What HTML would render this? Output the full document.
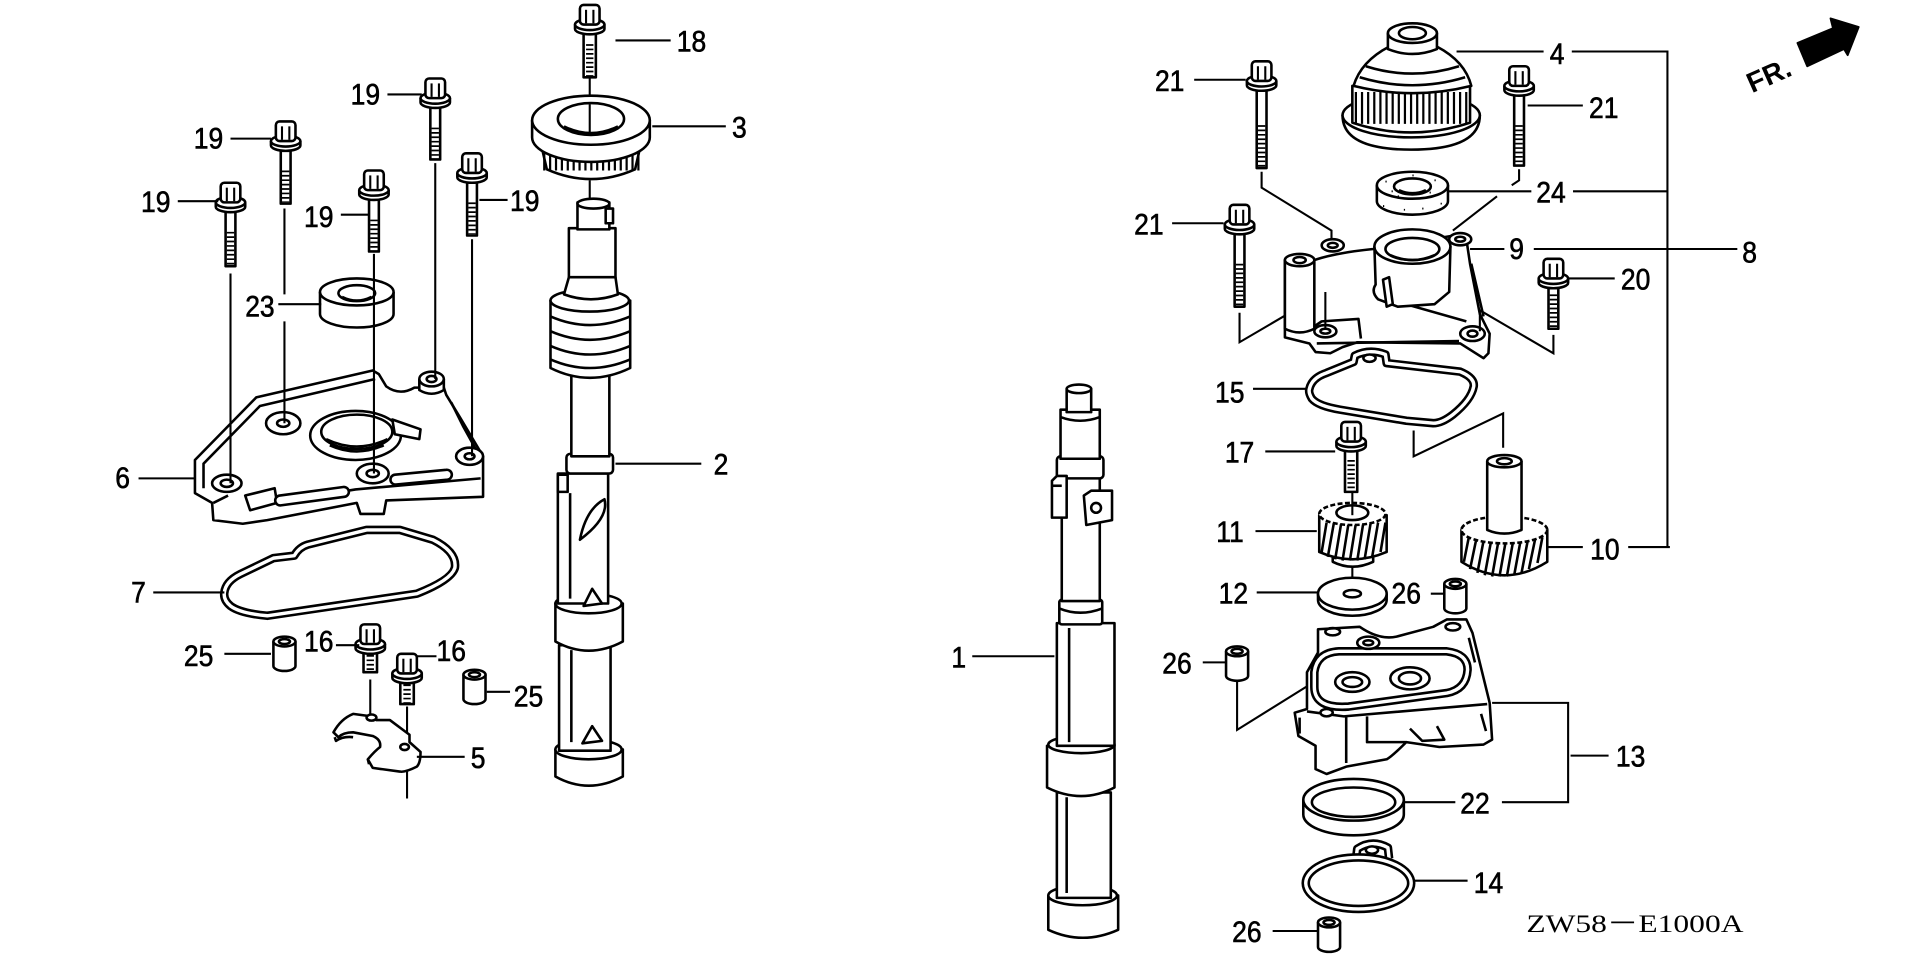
<!DOCTYPE html>
<html><head><meta charset="utf-8">
<style>
html,body{margin:0;padding:0;background:#fff;}
svg{display:block;}
.w{fill:#fff;stroke:#000;stroke-width:2.1;stroke-linejoin:round;}
.n{fill:none;stroke:#000;stroke-width:2.1;stroke-linejoin:round;}
.l{fill:none;stroke:#000;stroke-width:1.7;}
.th{fill:none;stroke:#000;stroke-width:6;stroke-dasharray:1.4 2.2;}
.t text{font-family:"Liberation Sans",Arial,sans-serif;font-size:24px;fill:#000;stroke:#000;stroke-width:0.5;transform-box:fill-box;transform-origin:0 50%;transform:scaleX(0.9);}
.g2{fill:none;stroke:#000;stroke-width:7;stroke-linejoin:round;}
.g2w{fill:none;stroke:#fff;stroke-width:2.8;stroke-linejoin:round;}
</style></head><body>
<svg width="1920" height="958" viewBox="0 0 1566 781" preserveAspectRatio="none" xmlns="http://www.w3.org/2000/svg">
<rect x="0" y="0" width="1566" height="781" fill="#fff"/>
<defs>
<g id="bh">
<path class="w" d="M-12,16 v3.5 a12,4.5 0 0 0 24,0 v-3.5"/>
<ellipse class="w" cx="0" cy="16" rx="12" ry="4.5"/>
<rect class="w" x="-8" y="0" width="16" height="16" rx="3"/>
<line class="l" x1="-3" y1="4" x2="-3" y2="15"/>
<line class="l" x1="3" y1="4" x2="3" y2="15"/>
</g>
<g id="sp">
<path class="w" d="M-9,0 V20 A9,4 0 0 0 9,20 V0"/>
<ellipse class="w" cx="0" cy="0" rx="9" ry="4"/>
<ellipse class="n" cx="0" cy="0" rx="4.5" ry="2"/>
</g>
</defs>

<!-- ===================== LEFT GROUP ===================== -->
<!-- cover 6 -->
<path class="w" d="M159,402 L159,375 L209,324 L304,302 L309,305 L315,315 Q326,323 338,316 L362,316 L364,322 L375,340 L394,372 L394,405 L315,408 L313,419 L294,419 L291,410 L218,424 L198,427 L174,424 L173,410 Z"/>
<path class="n" d="M166,398 L166,378 L212,331 L306,309"/>
<path class="n" d="M368,328 L378,348 L388,366"/>
<path class="n" d="M174,410 L186,404 M210,412 L290,399 L392,390"/>
<path class="w" d="M200,404 L224,398 L226,410 L204,416 Z"/>
<path class="w" d="M228,404 L280,397 A4,4 0 0 1 281,405 L229,412 A4,4 0 0 1 228,404 Z"/>
<path class="w" d="M322,387 L364,383 A4,4 0 0 1 365,391 L323,395 A4,4 0 0 1 322,387 Z"/>
<ellipse class="w" cx="290" cy="355" rx="37" ry="20"/>
<ellipse class="w" cx="291" cy="352" rx="29" ry="14"/>
<path class="n" d="M266,358 Q291,370 316,358 M269,363 Q291,373 313,363"/>
<path class="w" d="M320,342 L343,350 L342,358 L322,354 Z"/>
<path class="w" d="M342,309 V318 Q352,324 362,318 V309"/>
<ellipse class="w" cx="352" cy="309" rx="10" ry="6"/><ellipse class="n" cx="352" cy="309" rx="4" ry="2.5"/>
<ellipse class="w" cx="231" cy="345" rx="14" ry="9"/><ellipse class="n" cx="231" cy="345" rx="5" ry="3"/>
<ellipse class="w" cx="304" cy="386" rx="13" ry="8"/><ellipse class="n" cx="304" cy="386" rx="5" ry="3"/>
<ellipse class="w" cx="185" cy="394" rx="12" ry="7"/><ellipse class="n" cx="185" cy="394" rx="5" ry="3"/>
<ellipse class="w" cx="383" cy="372" rx="11" ry="7"/><ellipse class="n" cx="383" cy="372" rx="4" ry="2.5"/>

<!-- seal 23 -->
<path class="w" d="M261,238 V256 A30,11 0 0 0 321,256 V238"/>
<ellipse class="w" cx="291" cy="238" rx="30" ry="11"/>
<ellipse class="w" cx="291" cy="239" rx="15" ry="6.5"/>
<path class="n" d="M279,242 Q291,248 303,242"/>

<!-- guide lines for bolts 19 -->
<path class="l" d="M188,223 V394 M232,170 V240 M232,262 V345 M355,133 V309 M305,207 V386 M385,195 V372"/>

<!-- bolts 19 -->
<rect class="w" x="184" y="171" width="8" height="46"/><line class="th" x1="188" y1="189" x2="188" y2="216"/><g transform="translate(188,149)"><use href="#bh"/></g>
<rect class="w" x="229" y="121" width="8" height="45"/><line class="th" x1="233" y1="139" x2="233" y2="165"/><g transform="translate(233,99)"><use href="#bh"/></g>
<rect class="w" x="351" y="86" width="8" height="44"/><line class="th" x1="355" y1="104" x2="355" y2="129"/><g transform="translate(355,64)"><use href="#bh"/></g>
<rect class="w" x="301" y="161" width="8" height="44"/><line class="th" x1="305" y1="179" x2="305" y2="204"/><g transform="translate(305,139)"><use href="#bh"/></g>
<rect class="w" x="381" y="147" width="8" height="45"/><line class="th" x1="385" y1="165" x2="385" y2="191"/><g transform="translate(385,125)"><use href="#bh"/></g>

<!-- gasket 7 -->
<path class="g2" d="M183,483 Q184,474 196,468 L223,455 L240,453 Q244,446 251,444 L299,432 L326,432 L353,440 Q373,450 371,463 Q368,473 340,484 L218,502 Q196,500 188,494 Q182,489 183,483 Z"/>
<path class="g2w" d="M183,483 Q184,474 196,468 L223,455 L240,453 Q244,446 251,444 L299,432 L326,432 L353,440 Q373,450 371,463 Q368,473 340,484 L218,502 Q196,500 188,494 Q182,489 183,483 Z"/>

<!-- spacers 25 -->
<g transform="translate(232,523)"><use href="#sp"/></g>
<g transform="translate(387,550)"><use href="#sp"/></g>

<!-- bolts 16 -->
<path class="l" d="M302,554 V583 M332,576 V606 M332,628 V651"/>
<rect class="w" x="296.5" y="531" width="11" height="17"/><line class="th" x1="302" y1="534" x2="302" y2="547"/><g transform="translate(302,509)"><use href="#bh"/></g>
<rect class="w" x="326.5" y="555" width="11" height="19"/><line class="th" x1="332" y1="558" x2="332" y2="573"/><g transform="translate(332,533)"><use href="#bh"/></g>

<!-- part 5 -->
<path class="w" d="M272,597 Q278,586 288,582 L303,584 L307,587 L318,587 L334,599 L334,605 L343,613 Q343,622 340,625 Q330,630 326,629 L304,626 L300,619 Q306,612 310,609 Q311,603 304,600 L288,597 Q280,597 276,601 Z"/>
<path class="n" d="M273,601 L274,604 Q280,600 288,601 M300,619 L301,623"/>
<ellipse class="w" cx="303" cy="585" rx="4" ry="2.5"/>
<ellipse class="w" cx="330" cy="609" rx="3.5" ry="2.5"/>

<!-- gear 3 + bolt 18 -->
<line class="l" x1="481" y1="62" x2="481" y2="80"/>
<line class="l" x1="481" y1="147" x2="481" y2="165"/>
<path class="w" d="M440,112 L446,138 Q482,154 518,138 L524,112 Z"/>
<line x1="443" y1="128" x2="522" y2="128" stroke="#000" stroke-width="22" stroke-dasharray="1.8 3"/>
<path class="w" d="M434,98 V112 A48,20 0 0 0 530,112 V98"/>
<ellipse class="w" cx="482" cy="98" rx="48" ry="20"/>
<ellipse class="w" cx="482" cy="97" rx="27" ry="13"/>
<path class="n" d="M460,103 Q482,114 504,103"/>
<line class="l" x1="481" y1="85" x2="481" y2="110"/>
<rect class="w" x="476" y="26" width="10" height="37"/><line class="th" x1="481" y1="36" x2="481" y2="62"/><g transform="translate(481,4)"><use href="#bh"/></g>

<!-- shaft 2 -->
<path class="w" d="M453,611 V633 Q480,648 508,633 V611 Z"/>
<ellipse class="w" cx="480" cy="611" rx="27" ry="8"/>
<rect class="w" x="456" y="526" width="42" height="86"/>
<path class="n" d="M466,530 V605"/>
<path class="w" d="M475,606 L483,592 L491,604 Z"/>
<path class="w" d="M453,492 V523 Q480,538 508,523 V492 Z"/>
<ellipse class="w" cx="480" cy="492" rx="27" ry="8"/>
<rect class="w" x="455" y="386" width="41" height="106"/>
<path class="n" d="M465,402 V488"/>
<path class="w" d="M476,494 L483,480 L491,492 Z"/>
<path class="w" d="M473,440 Q478,415 493,407 Q497,422 473,440 Z"/>
<rect class="w" x="455" y="387" width="8" height="14"/>
<rect class="w" x="462" y="370" width="38" height="16" rx="3"/>
<rect class="w" x="466" y="300" width="31" height="72"/>
<path class="w" d="M449,245 V300 Q481,316 514,300 V245 Z"/>
<path class="n" d="M449,258 Q481,272 514,258 M449,270 Q481,284 514,270 M449,282 Q481,296 514,282 M449,293 Q481,307 514,293"/>
<ellipse class="w" cx="481" cy="245" rx="32" ry="9"/>
<path class="w" d="M460,240 L464,226 L502,226 L504,240 Q482,248 460,240 Z"/>
<rect class="w" x="464" y="186" width="38" height="40"/>
<rect class="w" x="471" y="165" width="26" height="22"/>
<ellipse class="w" cx="484" cy="166" rx="13" ry="4"/>
<rect class="w" x="494" y="170" width="6" height="12"/>

<!-- ===================== SHAFT 1 ===================== -->
<path class="w" d="M855,730 V758 Q883,771 912,758 V730 Z"/>
<ellipse class="w" cx="883" cy="730" rx="28" ry="8"/>
<rect class="w" x="862" y="646" width="44" height="86"/>
<path class="n" d="M870,650 V728"/>
<path class="w" d="M854,608 V642 Q882,656 909,642 V608 Z"/>
<ellipse class="w" cx="882" cy="607" rx="27" ry="7"/>
<rect class="w" x="862" y="508" width="47" height="100"/>
<path class="n" d="M872,512 V605"/>
<rect class="w" x="864" y="489" width="35" height="20" rx="2"/>
<path class="n" d="M864,496 Q881,503 899,496"/>
<rect class="w" x="866" y="388" width="31" height="102"/>
<rect class="w" x="862" y="372" width="38" height="18" rx="3"/>
<path class="w" d="M858,392 L862,388 L870,388 L870,422 L858,422 Z"/>
<path class="n" d="M858,396 L866,396"/>
<path class="w" d="M884,404 L890,400 L907,400 L907,424 L886,428 Z"/>
<circle class="n" cx="894" cy="414" r="4"/>
<rect class="w" x="865" y="334" width="32" height="40"/>
<path class="n" d="M865,340 Q881,346 897,340"/>
<rect class="w" x="870" y="317" width="20" height="19"/>
<ellipse class="w" cx="880" cy="317" rx="10" ry="3.5"/>

<!-- ===================== RIGHT GROUP ===================== -->
<path class="l" d="M1188,42 H1259 M1282,42 H1360 V446 M1181,156 H1249 M1283,156 H1360 M1199,203 H1227 M1251,203 H1417 M1263,446 H1291 M1328,446 H1362"/>
<path class="l" d="M1217,573 H1279 V654 H1225 M1281,616 H1312 M1143,654 H1187"/>
<path class="l" d="M974,65 H1016 M1246,86 H1291 M956,182 H998 M1279,227 H1317 M1022,317 H1068 M1032,368 H1089 M1024,433 H1074 M1025,483 H1075 M1167,484 H1181 M981,540 H1000 M1152,718 H1197 M1038,759 H1075 M793,535 H860"/>
<path class="l" d="M502,33 H547 M532,103 H592 M145,164 H178 M188,113 H221 M316,77 H344 M278,175 H301 M391,163 H414 M227,248 H262 M113,390 H159 M125,483 H183 M502,378 H572 M183,533 H221 M274,526 H293 M340,535 H356 M397,564 H416 M340,617 H379"/>
<path class="l" d="M1029,140 V153 L1086,188 V198 M1239,138 V147 L1233,151 M1221,160 L1185,188 M1011,255 V279 L1081,238 M1267,273 V288 L1207,253 M1153,351 V372 L1226,337 V365 M1009,553 V595 L1083,549 V579"/>

<!-- gear 4 -->
<path class="w" d="M1095,94 Q1095,122 1151,122 Q1207,122 1207,94 Z"/>
<ellipse class="w" cx="1151" cy="94" rx="56" ry="18"/>
<path class="w" d="M1103,70 V100 Q1151,116 1199,100 V70 Z"/>
<line x1="1105" y1="88" x2="1198" y2="88" stroke="#000" stroke-width="26" stroke-dasharray="1.8 3.2"/>
<path class="w" d="M1104,70 Q1110,50 1133,38 L1172,38 Q1195,50 1200,70 Q1152,82 1104,70 Z"/>
<path class="n" d="M1114,54 Q1152,66 1190,54 M1109,63 Q1152,76 1195,63"/>
<path class="w" d="M1132,27 V40 Q1152,48 1172,40 V27"/>
<ellipse class="w" cx="1152" cy="27" rx="20" ry="8"/>
<ellipse class="w" cx="1152" cy="27" rx="11" ry="5"/>

<!-- seal 24 -->
<path class="w" d="M1123,151 V164 A29,11 0 0 0 1181,164 V151"/>
<ellipse class="w" cx="1152" cy="151" rx="29" ry="11"/>
<ellipse class="w" cx="1152" cy="152" rx="15" ry="6.5"/>
<path class="n" d="M1141,155 Q1152,160 1163,155"/>
<path d="M1130,148 h1 M1170,147 h1 M1135,156 h1 M1166,157 h1 M1140,160 h1 M1128,168 h1 M1145,171 h1 M1160,170 h1 M1175,166 h1 M1152,143 h1" stroke="#000" stroke-width="1.5"/>

<!-- bolts 21, 20 -->
<rect class="w" x="1025" y="72" width="8" height="65"/><line class="th" x1="1029" y1="102" x2="1029" y2="136"/><g transform="translate(1029,50)"><use href="#bh"/></g>
<rect class="w" x="1235" y="76" width="8" height="59"/><line class="th" x1="1239" y1="102" x2="1239" y2="134"/><g transform="translate(1239,54)"><use href="#bh"/></g>
<rect class="w" x="1007" y="189" width="8" height="61"/><line class="th" x1="1011" y1="215" x2="1011" y2="249"/><g transform="translate(1011,167)"><use href="#bh"/></g>
<rect class="w" x="1263" y="233" width="8" height="35"/><line class="th" x1="1267" y1="240" x2="1267" y2="267"/><g transform="translate(1267,211)"><use href="#bh"/></g>

<!-- part 9 -->
<path class="w" d="M1048,212 L1048,275 L1068,280 L1073,287 L1085,288 L1095,283 L1107,279 L1191,280 L1210,292 L1214,288 L1215,272 L1207,256 L1199,215 L1196,195 L1186,192 L1120,203 Q1090,206 1072,212 Z"/>
<path class="n" d="M1066,270 L1078,262 L1108,260 L1110,276 M1136,245 L1196,262 M1200,215 L1210,258 M1074,280 L1190,278"/>
<path class="w" d="M1048,212 V268 Q1060,274 1072,268 V212"/>
<ellipse class="w" cx="1060" cy="212" rx="12" ry="5"/><ellipse class="n" cx="1060" cy="212" rx="5" ry="2.5"/>
<path class="w" d="M1121,201 L1122,232 Q1118,238 1124,244 L1140,250 L1170,248 L1182,238 L1183,201 Z"/>
<ellipse class="w" cx="1152" cy="201" rx="31" ry="14"/>
<ellipse class="w" cx="1152" cy="203" rx="22" ry="9"/>
<path class="n" d="M1134,208 Q1152,216 1170,208"/>
<path class="w" d="M1128,228 L1133,226 L1136,248 L1131,250 Z"/>
<ellipse class="w" cx="1087" cy="200" rx="9" ry="5"/><ellipse class="n" cx="1087" cy="200" rx="4" ry="2"/>
<ellipse class="w" cx="1191" cy="195" rx="9" ry="5"/><ellipse class="n" cx="1191" cy="195" rx="4" ry="2"/>
<ellipse class="w" cx="1201" cy="272" rx="10" ry="6"/><ellipse class="n" cx="1201" cy="272" rx="4" ry="2.5"/>
<ellipse class="w" cx="1081" cy="270" rx="9" ry="5"/><ellipse class="n" cx="1081" cy="270" rx="4" ry="2"/>
<path class="l" d="M1081,238 V268 M1207,253 V270"/>

<!-- gasket 15 -->
<path class="g2" d="M1068,317 Q1070,308 1082,304 L1104,295 L1105,290 Q1117,284 1130,289 L1131,296 L1191,303 Q1203,308 1202,315 Q1200,326 1185,338 Q1176,345 1169,345 L1147,343 L1093,334 Q1075,331 1070,325 Q1067,320 1068,317 Z"/>
<path class="g2w" d="M1068,317 Q1070,308 1082,304 L1104,295 L1105,290 Q1117,284 1130,289 L1131,296 L1191,303 Q1203,308 1202,315 Q1200,326 1185,338 Q1176,345 1169,345 L1147,343 L1093,334 Q1075,331 1070,325 Q1067,320 1068,317 Z"/>
<ellipse class="w" cx="1117" cy="292" rx="5" ry="3"/>

<!-- bolt 17 / gear 11 / washer 12 -->
<line class="l" x1="1103" y1="462" x2="1103" y2="486"/>
<path class="w" d="M1075,484 V489 A28,13 0 0 0 1131,489 V484"/>
<ellipse class="w" cx="1103" cy="484" rx="28" ry="13"/>
<ellipse class="w" cx="1103" cy="484" rx="7" ry="3"/>
<path class="w" d="M1087,448 V458 Q1103,466 1120,458 V448"/>
<path class="w" d="M1076,420 V450 Q1103,462 1131,450 V420 Z"/>
<path class="n" d="M1082,426 L1078,450 M1088,426 L1083,454 M1094,426 L1089,456 M1100,426 L1095,457 M1106,426 L1101,457 M1112,426 L1107,457 M1118,426 L1113,456 M1124,426 L1119,455 M1130,426 L1126,450"/>
<ellipse class="w" cx="1103" cy="419" rx="27" ry="9" stroke-dasharray="4 2"/>
<ellipse class="w" cx="1103" cy="418" rx="13" ry="6"/>
<line class="l" x1="1103" y1="401" x2="1103" y2="420"/>
<rect class="w" x="1097" y="366" width="10" height="35"/><line class="th" x1="1102" y1="375" x2="1102" y2="400"/><g transform="translate(1102,344)"><use href="#bh"/></g>

<!-- gear 10 -->
<path class="w" d="M1192,432 V458 Q1227,480 1262,458 V432 Z"/>
<path class="n" d="M1198,438 L1194,458 M1204,440 L1199,464 M1210,441 L1205,467 M1216,442 L1211,469 M1222,442 L1217,470 M1228,442 L1223,470 M1234,442 L1229,470 M1240,442 L1235,469 M1246,441 L1241,467 M1252,440 L1247,464 M1258,438 L1254,459"/>
<ellipse class="w" cx="1227" cy="432" rx="35" ry="11" stroke-dasharray="4 2"/>
<path class="w" d="M1213,376 V432 Q1227,438 1241,432 V376"/>
<ellipse class="w" cx="1227" cy="376" rx="14" ry="5"/>
<ellipse class="n" cx="1227" cy="376" rx="6" ry="2.5"/>

<!-- spacers 26 -->
<g transform="translate(1187,476)"><use href="#sp"/></g>
<g transform="translate(1009,531)"><use href="#sp"/></g>
<g transform="translate(1084,752)"><use href="#sp"/></g>

<!-- housing 13 -->
<path class="w" d="M1075,513 L1109,511 Q1125,522 1139,519 L1169,511 L1180,505 L1196,505 L1201,516 L1215,573 L1217,603 L1210,607 L1174,609 L1147,605 Q1135,617 1131,619 L1098,625 L1082,631 L1073,627 L1073,608 L1059,600 L1056,581 L1066,578 L1066,548 L1075,532 Z"/>
<path class="n" d="M1066,580 L1096,584 L1213,574 M1098,584 V622 M1115,584 V605 L1147,605 M1150,594 L1160,604 L1178,603 L1172,592 M1060,585 L1060,598"/>
<path class="g2" d="M1072,548 Q1074,532 1092,531 L1180,531 Q1197,533 1197,546 Q1196,562 1180,565 L1100,576 Q1072,578 1072,560 Z"/>
<path class="g2w" d="M1072,548 Q1074,532 1092,531 L1180,531 Q1197,533 1197,546 Q1196,562 1180,565 L1100,576 Q1072,578 1072,560 Z"/>
<ellipse class="w" cx="1103" cy="556" rx="14" ry="8"/><ellipse class="n" cx="1103" cy="556" rx="8" ry="4"/>
<ellipse class="w" cx="1150" cy="553" rx="16" ry="9"/><ellipse class="n" cx="1150" cy="553" rx="9" ry="5"/>
<ellipse class="w" cx="1116" cy="524" rx="9" ry="5"/><ellipse class="n" cx="1116" cy="524" rx="4" ry="2"/>
<ellipse class="n" cx="1087" cy="515" rx="6" ry="3"/>
<ellipse class="n" cx="1185" cy="511" rx="6" ry="3"/>
<path class="n" d="M1198,520 L1203,540 M1208,582 L1212,596"/>
<ellipse class="w" cx="1082" cy="581" rx="5" ry="3"/>

<!-- ring 22 -->
<path class="w" d="M1063,652 V664 A41,17 0 0 0 1145,664 V652"/>
<ellipse class="w" cx="1104" cy="652" rx="41" ry="17"/>
<ellipse class="w" cx="1104" cy="654" rx="34" ry="12"/>

<!-- gasket 14 -->
<path class="g2" d="M1106,700 L1107,692 Q1119,684 1132,691 L1133,700"/>
<path class="g2w" d="M1106,700 L1107,692 Q1119,684 1132,691 L1133,700"/>
<ellipse class="g2" cx="1108" cy="720" rx="43" ry="21"/>
<ellipse class="g2w" cx="1108" cy="720" rx="43" ry="21"/>
<ellipse class="w" cx="1119" cy="693" rx="5" ry="3"/>

<!-- FR arrow -->
<text x="0" y="0" transform="translate(1429,76) rotate(-24)" font-family="Liberation Sans, Arial, sans-serif" font-size="23" font-weight="bold" fill="#000">FR.</text>
<polygon points="1466,35 1495,23 1493,15 1516,22 1507,45 1504,40 1474,54" fill="#000" stroke="#000" stroke-width="1.5" stroke-linejoin="round"/>

<!-- labels -->
<g class="t">
<text x="552" y="42">18</text>
<text x="597" y="112">3</text>
<text x="115" y="173">19</text>
<text x="158" y="121">19</text>
<text x="286" y="85">19</text>
<text x="248" y="185">19</text>
<text x="416" y="172">19</text>
<text x="200" y="258">23</text>
<text x="94" y="398">6</text>
<text x="107" y="491">7</text>
<text x="582" y="387">2</text>
<text x="150" y="543">25</text>
<text x="248" y="531">16</text>
<text x="356" y="539">16</text>
<text x="419" y="576">25</text>
<text x="384" y="626">5</text>
<text x="776" y="544">1</text>
<text x="1264" y="52">4</text>
<text x="942" y="74">21</text>
<text x="1296" y="96">21</text>
<text x="1253" y="165">24</text>
<text x="925" y="191">21</text>
<text x="1231" y="211">9</text>
<text x="1421" y="214">8</text>
<text x="1322" y="236">20</text>
<text x="991" y="328">15</text>
<text x="999" y="377">17</text>
<text x="992" y="442">11</text>
<text x="994" y="492">12</text>
<text x="1135" y="492">26</text>
<text x="1297" y="456">10</text>
<text x="948" y="549">26</text>
<text x="1318" y="625">13</text>
<text x="1191" y="663">22</text>
<text x="1202" y="728">14</text>
<text x="1005" y="768">26</text>
</g>
<text x="1245" y="760" font-family="Liberation Serif, 'Times New Roman', serif" font-size="21" textLength="177" lengthAdjust="spacingAndGlyphs" fill="#000">ZW58－E1000A</text>
</svg>
</body></html>
